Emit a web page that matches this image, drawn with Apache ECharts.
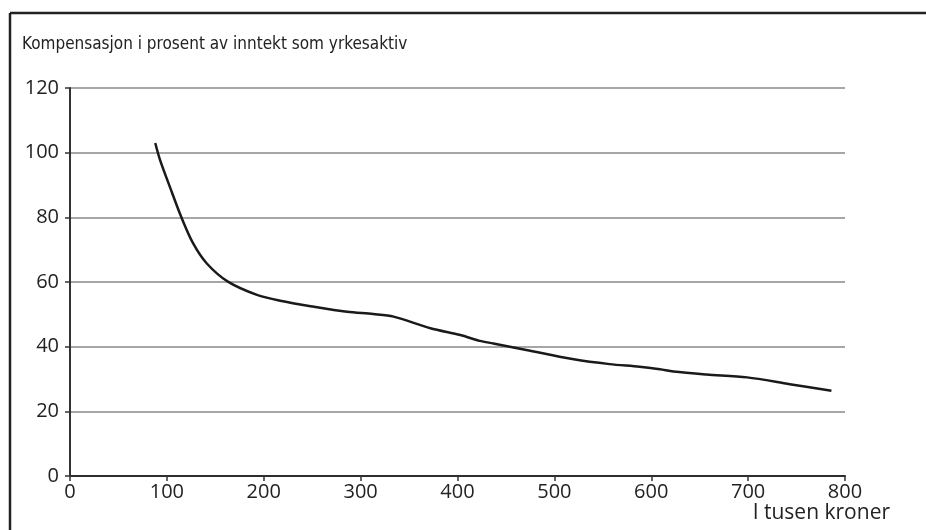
<!DOCTYPE html>
<html>
<head>
<meta charset="utf-8">
<script src="https://cdn.jsdelivr.net/npm/echarts@6/dist/echarts.min.js"></script>
<style>
  html, body { margin: 0; padding: 0; background: #fff; }
  #chart { width: 926px; height: 530px; }
</style>
</head>
<body>
<div id="chart"></div>
<script>
// inntekt (tusen kroner) og kompensasjon (prosent)
const inntekt = [88, 93, 103, 115, 127, 141, 163, 193, 217, 251, 286, 313, 334, 372, 403, 423, 437, 471, 520, 557, 588, 609, 623, 657, 699, 743, 786];
const kompensasjon = [103, 97.7, 89.5, 80, 72, 65.8, 60.1, 56, 54.2, 52.4, 50.8, 50.1, 49.3, 45.7, 43.6, 41.8, 41, 39, 36.1, 34.6, 33.8, 33, 32.3, 31.4, 30.5, 28.4, 26.4];
const yTicks = [0, 20, 40, 60, 80, 100, 120];

const font = '"Open Sans", "Noto Sans", sans-serif';
const narrow = '"Liberation Sans Narrow", "DejaVu Sans Condensed", sans-serif';
const chart = echarts.init(document.getElementById('chart'));

chart.setOption({
  animation: false,
  grid: { left: 70, right: 81, top: 88, bottom: 54 },
  graphic: [
    { type: 'line', shape: { x1: 10, y1: 13, x2: 10, y2: 530 }, style: { stroke: '#222', lineWidth: 2.5 } },
    { type: 'line', shape: { x1: 10, y1: 13, x2: 926, y2: 13 }, style: { stroke: '#222', lineWidth: 2.5 } },
    {
      type: 'text', left: 22, top: 36,
      style: { text: 'Kompensasjon i prosent av inntekt som yrkesaktiv', font: '17px ' + narrow, fill: '#222' }
    },
    {
      type: 'text', right: 36, top: 503,
      style: { text: 'I tusen kroner', font: '21px ' + font, fill: '#222' }
    }
  ],
  xAxis: [
    {
      type: 'value', min: 0, max: 800, interval: 100,
      axisLine: { show: true, lineStyle: { color: '#555', width: 2 } },
      axisTick: { show: true, length: 5, lineStyle: { color: '#333', width: 1.5 } },
      axisLabel: { color: '#222', fontSize: 20, fontFamily: font, margin: 6 },
      splitLine: { show: false }
    },
    {
      type: 'value', position: 'top', min: 0, max: 800,
      axisLine: { show: true, lineStyle: { color: '#222', width: 1.5 } },
      axisTick: { show: false }, axisLabel: { show: false }, splitLine: { show: false }
    }
  ],
  yAxis: [
    {
      type: 'value', min: 0, max: 120, interval: 20,
      axisLine: { show: true, lineStyle: { color: '#333', width: 1.5 } },
      axisTick: { show: true, length: 5, lineStyle: { color: '#333', width: 1.5 } },
      axisLabel: {
        color: '#222', fontSize: 20, fontFamily: font, margin: 11,
        formatter: v => yTicks.includes(v) ? String(v) : ''
      },
      splitLine: { show: true, lineStyle: { color: '#888', width: 1.5 } }
    },
    {
      type: 'value', position: 'right', min: 0, max: 120,
      axisLine: { show: true, lineStyle: { color: '#222', width: 1.5 } },
      axisTick: { show: false }, axisLabel: { show: false }, splitLine: { show: false }
    }
  ],
  series: [{
    type: 'line',
    data: inntekt.map((x, i) => [x, kompensasjon[i]]),
    smooth: 0.3,
    showSymbol: false,
    lineStyle: { color: '#1a1a1a', width: 2.5 }
  }]
});
</script>
</body>
</html>
